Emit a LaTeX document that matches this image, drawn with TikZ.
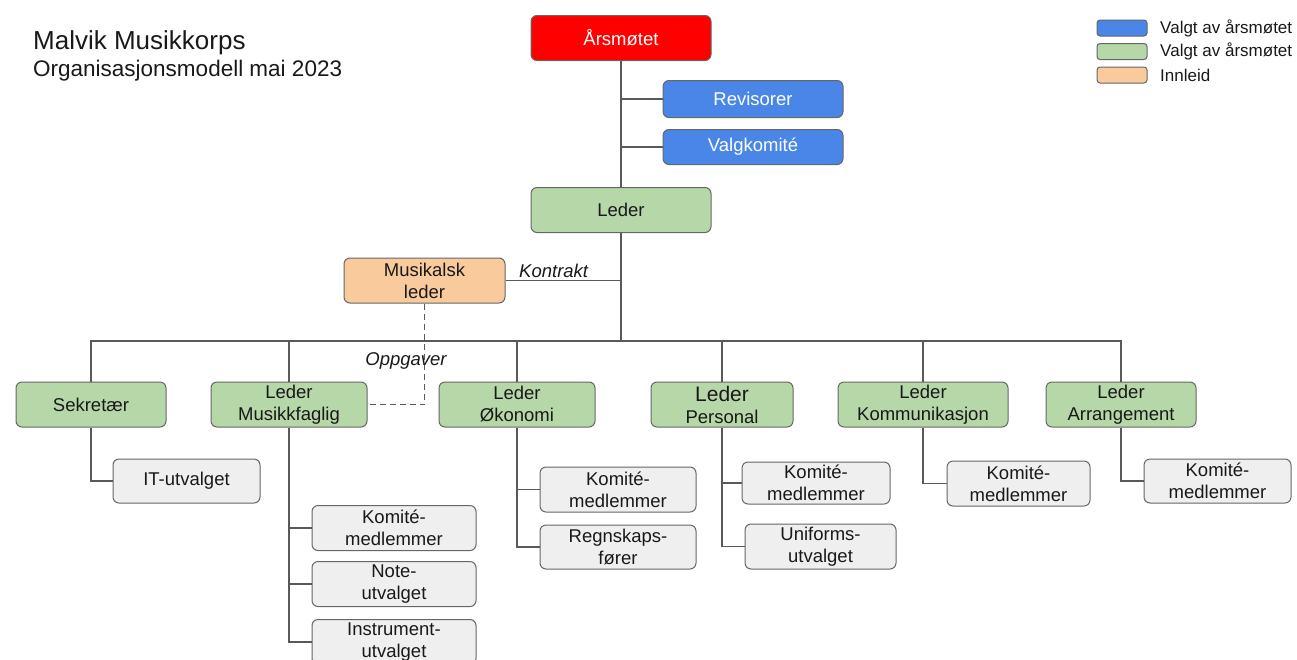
\documentclass[tikz,border=0pt]{standalone}
\usepackage{fontspec}
\setmainfont{Liberation Sans}
\begin{document}
\begin{tikzpicture}[x=1pt,y=-1pt,
  box/.style={draw=black!60,line width=1pt,rounded corners=6pt,align=center,
    inner sep=0pt,font=\fontsize{18.5}{22}\selectfont,text=black!90},
  red/.style={box,fill=red,text=white,minimum width=180pt,minimum height=45pt},
  blue/.style={box,fill=gblue,text=white,minimum width=180pt,minimum height=37pt},
  green/.style={box,fill=ggreen},
  orange/.style={box,fill=gorange},
  gray/.style={box,fill=ggray},
  link/.style={draw=black!65,line width=1.3pt},
  lbl/.style={font=\itshape\fontsize{18.5}{20}\selectfont,text=black!90,inner sep=1pt},
  leg/.style={draw=black!60,line width=1pt,rounded corners=3pt,minimum width=50pt,minimum height=16pt,inner sep=0pt},
  legtxt/.style={font=\fontsize{17}{19}\selectfont,text=black!90,anchor=west,inner sep=0pt}
]
\definecolor{gblue}{HTML}{4A86E8}
\definecolor{ggreen}{HTML}{B6D7A8}
\definecolor{gorange}{HTML}{F9CB9C}
\definecolor{ggray}{HTML}{EFEFEF}
\useasboundingbox (0,0) rectangle (1297,659);
\clip (0,0) rectangle (1297,659);

% title
\node[anchor=base west,inner sep=0pt,font=\fontsize{26}{28}\selectfont,text=black!90] (t1) at (33,49) {Malvik Musikkorps};
\node[anchor=base west,inner sep=0pt,font=\fontsize{22.5}{24}\selectfont,text=black!90] (t2) at (33,76) {Organisasjonsmodell mai 2023};

% legend
\node[leg,fill=gblue] (l1) at (1122,28) {};
\node[leg,fill=ggreen] (l2) at (1122,51.5) {};
\node[leg,fill=gorange] (l3) at (1122,75) {};
\node[legtxt] (lt1) at (1160,28) {Valgt av årsmøtet};
\node[legtxt] (lt2) at (1160,51.5) {Valgt av årsmøtet};
\node[legtxt] (lt3) at (1160,75) {Innleid};

% top
\node[red] (ars) at (621,38) {Årsmøtet};
\node[blue] (rev) at (753,99) {Revisorer};
\node[blue,minimum height=35pt] (valg) at (753,147) {Valgkomité};
\node[green,minimum width=180pt,minimum height=45pt] (leder) at (621,210) {Leder};
\node[orange,minimum width=161pt,minimum height=45pt] (mus) at (424.5,280.5) {Musikalsk\\leder};
\coordinate (bus) at (621,341);

% level 2
\node[green,minimum width=150pt,minimum height=45pt] (sek) at (91,404.5) {Sekretær};
\node[green,minimum width=156pt,minimum height=45pt] (musk) at (289,404.5) {Leder\\Musikkfaglig};
\node[green,minimum width=156pt,minimum height=45pt] (oko) at (517,404.5) {Leder\\Økonomi};
\node[green,minimum width=142pt,minimum height=45pt] (pers) at (722,404.5) {{\fontsize{21}{22}\selectfont Leder}\\Personal};
\node[green,minimum width=170pt,minimum height=45pt] (kom) at (923,404.5) {Leder\\Kommunikasjon};
\node[green,minimum width=150pt,minimum height=45pt] (arr) at (1121,404.5) {Leder\\Arrangement};

% level 3
\node[gray,minimum width=147pt,minimum height=44pt] (it) at (186.5,481) {IT-utvalget};
\node[gray,minimum width=164pt,minimum height=45pt] (mk1) at (394,528) {Komité-\\medlemmer};
\node[gray,minimum width=164pt,minimum height=45pt] (mk2) at (394,584) {Note-\\utvalget};
\node[gray,minimum width=164pt,minimum height=45pt] (mk3) at (394,642) {Instrument-\\utvalget};
\node[gray,minimum width=156pt,minimum height=45pt] (ok1) at (618,489.5) {Komité-\\medlemmer};
\node[gray,minimum width=156pt,minimum height=44pt] (ok2) at (618,547) {Regnskaps-\\fører};
\node[gray,minimum width=148pt,minimum height=42pt] (pe1) at (816,483) {Komité-\\medlemmer};
\node[gray,minimum width=151pt,minimum height=45pt] (pe2) at (820.5,546.5) {Uniforms-\\utvalget};
\node[gray,minimum width=143pt,minimum height=45pt] (ko1) at (1018.5,483.5) {Komité-\\medlemmer};
\node[gray,minimum width=147pt,minimum height=44pt] (ar1) at (1217.5,481) {Komité-\\medlemmer};

% connectors
\draw[link] (ars.south) -- (leder.north);
\draw[link] (rev.west) -- (rev.west -| ars.south);
\draw[link] (valg.west) -- (valg.west -| ars.south);
\draw[link] (leder.south) -- (bus);
\draw[link] (mus.east) -- (mus.east -| leder.south);
\node[lbl,anchor=base west] (kontrakt) at (518,277) {Kontrakt};
\draw[link] (bus) -| (sek.north);
\draw[link] (bus) -| (musk.north);
\draw[link] (bus) -| (oko.north);
\draw[link] (bus) -| (pers.north);
\draw[link] (bus) -| (kom.north);
\draw[link] (bus) -| (arr.north);
\draw[link,line width=1pt,dash pattern=on 6pt off 4pt] (mus.south) |- (musk.east);
\node[lbl] (opp) at (406,361) {Oppgaver};

\draw[link] (sek.south) |- (it.west);
\draw[link] (musk.south) |- (mk1.west);
\draw[link] (musk.south) |- (mk2.west);
\draw[link] (musk.south) |- (mk3.west);
\draw[link] (oko.south) |- (ok1.west);
\draw[link] (oko.south) |- (ok2.west);
\draw[link] (pers.south) |- (pe1.west);
\draw[link] (pers.south) |- (pe2.west);
\draw[link] (kom.south) |- (ko1.west);
\draw[link] (arr.south) |- (ar1.west);
\end{tikzpicture}
\end{document}
